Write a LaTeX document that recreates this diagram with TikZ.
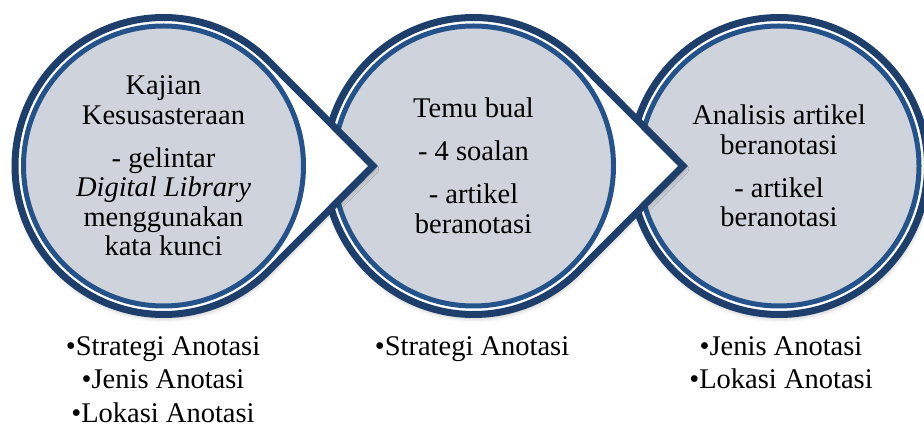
\documentclass[tikz,border=0pt]{standalone}
\usepackage{fontspec}
\setmainfont{Liberation Serif}
\usetikzlibrary{calc,shadows.blur}
\definecolor{navyA}{HTML}{1E3F6C}
\definecolor{navyB}{HTML}{24528A}
\definecolor{fillG}{HTML}{CFD3DB}
\begin{document}
\begin{tikzpicture}[x=1pt,y=-1pt,
  outerring/.style={fill=white,draw=navyA,line width=7pt,line join=miter,
     blur shadow={shadow xshift=1pt,shadow yshift=-3pt,shadow blur radius=5pt,shadow opacity=35}},
  innerdisc/.style={fill=fillG,draw=navyB,line width=5pt},
  circtext/.style={align=center,font=\fontsize{28.5}{29.5}\selectfont,inner sep=0pt},
  bullettext/.style={align=center,font=\fontsize{28.5}{33.5}\selectfont,inner sep=0pt,anchor=north}]
\useasboundingbox (0,0) rectangle (924,427);
\clip (0,0) rectangle (924,427);
\coordinate (c1) at (163.5,166);
\coordinate (c2) at (473.5,166);
\coordinate (c3) at (779,166);
% circle 3
\path[outerring] (c3) circle[radius=148.5];
\path[innerdisc] (c3) circle[radius=140];
% circle 2
\path[outerring] ($(c2)+(209.5,0)$) -- ($(c2)+(44.86:148.5)$) arc[start angle=44.86,end angle=315.14,radius=148.5] -- cycle;
\path[innerdisc] (c2) circle[radius=140];
% circle 1
\path[outerring] ($(c1)+(209.5,0)$) -- ($(c1)+(44.86:148.5)$) arc[start angle=44.86,end angle=315.14,radius=148.5] -- cycle;
\path[innerdisc] (c1) circle[radius=140];
% texts
\node[circtext] (t1) at (c1) {Kajian\\Kesusasteraan\\[13.5pt]- gelintar\\\textit{Digital Library}\\menggunakan\\kata kunci};
\node[circtext] (t2) at (c2) {Temu bual\\[13.5pt]- 4 soalan\\[13.5pt]- artikel\\beranotasi};
\node[circtext] (t3) at (c3) {Analisis artikel\\beranotasi\\[13.5pt]- artikel\\beranotasi};
\node[bullettext] (b1) at (163,336) {•Strategi Anotasi\\•Jenis Anotasi\\•Lokasi Anotasi};
\node[bullettext] (b2) at (472,336) {•Strategi Anotasi};
\node[bullettext] (b3) at (781,336) {•Jenis Anotasi\\•Lokasi Anotasi};
\end{tikzpicture}
\end{document}
